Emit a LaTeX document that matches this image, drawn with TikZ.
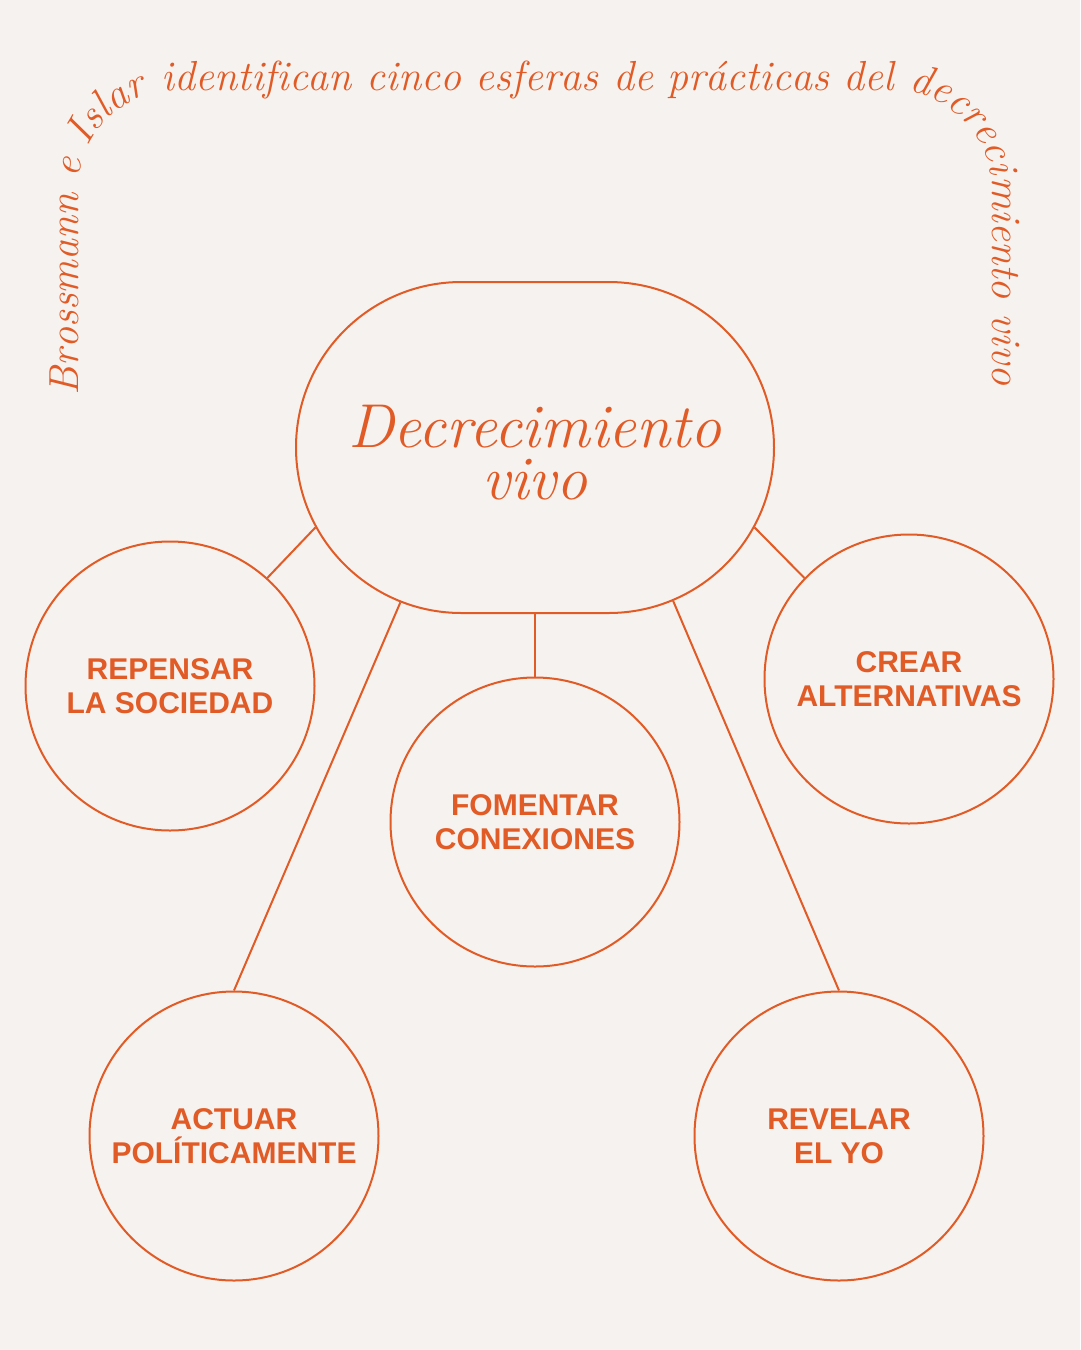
\documentclass[tikz,border=0pt]{standalone}
\usepackage{mathtools}
\usepackage{fontspec}
\usetikzlibrary{shapes.misc,decorations.text}
\newfontfamily\spherefont{Liberation Sans}
\newcommand\archfont{\itshape\fontsize{42}{42}\selectfont}
\definecolor{paper}{HTML}{F6F2EF}
\definecolor{rust}{HTML}{E15B26}
\tikzset{every node/.append style={transform shape=false}}
\tikzset{sphere/.style={circle,draw=rust,line width=2pt,minimum size=289pt,inner sep=0pt,
    align=center,text=rust,font=\spherefont\bfseries\fontsize{30}{34}\selectfont}}

\begin{document}
\begin{tikzpicture}[x=1pt,y=-1pt]
  \fill[paper] (0,0) rectangle (1080,1350);
  \useasboundingbox (0,0) rectangle (1080,1350);
  % title along the arch
  \path[rounded corners=100pt,decorate,decoration={text along path,text color=rust,
    text={|\archfont|Brossmann e Islar identifican cinco esferas de prácticas del decrecimiento vivo}}]
    (78,395) -- (78,90) -- (992,90) -- (992,400);
  \node[rounded rectangle,draw=rust,line width=2pt,minimum width=478pt,minimum height=331pt,
    inner sep=0pt] (dv) at (535,447.5) {};
  \node[align=center,text=rust,inner sep=0pt,font=\itshape\fontsize{62}{52}\selectfont] (dvtext)
    at ([yshift=-5pt]dv.center) {Decrecimiento\\vivo};
  \foreach \n/\x/\y/\lbl in {rep/170/686/{REPENSAR\\LA SOCIEDAD}, cre/909/679/{CREAR\\ALTERNATIVAS},
      fom/535/822/{FOMENTAR\\CONEXIONES}, act/234/1136/{ACTUAR\\POLÍTICAMENTE},
      rev/839/1136/{REVELAR\\EL YO}}{
    \node[sphere] (\n) at (\x,\y) {\lbl};
  };
  \foreach \a/\b in {dv.-160/rep.48, dv.-20.4/cre.136.6, dv.south/fom.north,
      dv.-131.6/act.north, dv.-48.3/rev.north}
    \draw[rust,line width=2pt] (\a) -- (\b);
\end{tikzpicture}
\end{document}
